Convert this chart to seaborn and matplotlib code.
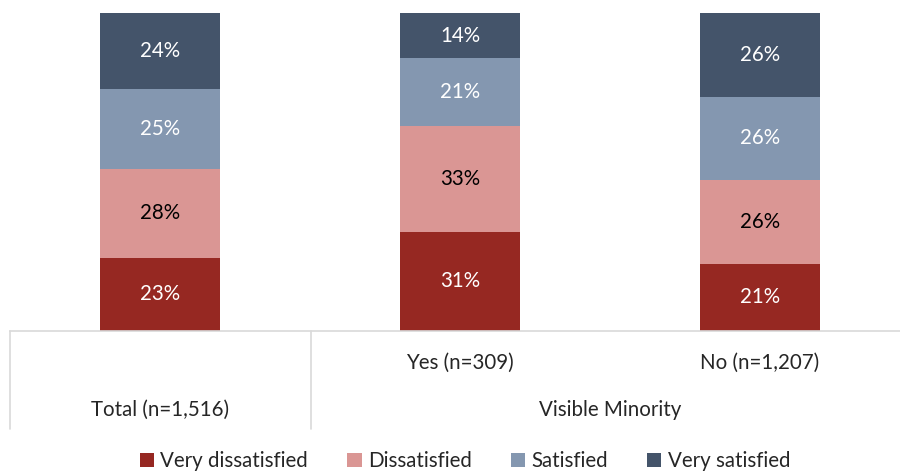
import matplotlib
matplotlib.use('Agg')
import matplotlib.pyplot as plt
import matplotlib.transforms as mtransforms
import seaborn as sns
import pandas as pd
from matplotlib.lines import Line2D
from matplotlib.patches import Patch

# Data (shares; labels are the rounded values)
groups = ['Total (n=1,516)', 'Yes (n=309)', 'No (n=1,207)']
levels = ['Very dissatisfied', 'Dissatisfied', 'Satisfied', 'Very satisfied']
very_dissatisfied = [23.0, 31.2, 21.1]
dissatisfied = [27.9, 33.4, 26.4]
satisfied = [25.2, 21.1, 26.1]
very_satisfied = [23.9, 14.3, 26.4]
colors = ['#962822', '#DA9694', '#8497B0', '#44546A']
text_colors = ['white', 'black', 'white', 'white']

series = [very_dissatisfied, dissatisfied, satisfied, very_satisfied]
df = pd.DataFrame({'group': groups})
for name, vals in zip(levels, series):
    df[name] = vals

sns.set_style('white')
plt.rcParams['font.family'] = ['Lato', 'DejaVu Sans']
FS = 14.8

W, H = 900, 472
fig = plt.figure(figsize=(9, 4.72), dpi=100)
ax = fig.add_axes([10 / W, (H - 331) / H, 900 / W, 318 / H])

# stacked bars: draw cumulative totals from the top down
cum = df[levels].cumsum(axis=1)
for i in range(len(levels) - 1, -1, -1):
    sns.barplot(x=df['group'], y=cum[levels[i]], color=colors[i], width=0.4,
                saturation=1, ax=ax, order=groups, linewidth=0)

# value labels
for j, g in enumerate(groups):
    base = 0
    for i, name in enumerate(levels):
        v = df.loc[j, name]
        ax.text(j, base + v / 2, f'{round(v)}%', ha='center', va='center',
                fontsize=FS, color=text_colors[i])
        base += v

ax.set_xlim(-0.5, 2.5)
ax.set_ylim(0, 100)
ax.set_xticks([])
ax.set_yticks([])
ax.set_xlabel('')
ax.set_ylabel('')
for s in ['top', 'left', 'right']:
    ax.spines[s].set_visible(False)
ax.spines['bottom'].set_color('#D9D9D9')
ax.spines['bottom'].set_linewidth(1.2)

# category table below the axis
line_color = '#D9D9D9'
for xpix in [10, 311]:
    fig.add_artist(Line2D([xpix / W, xpix / W], [(H - 331) / H, (H - 429) / H],
                          color=line_color, lw=1.2))

def fig_y(ypix):
    return (H - ypix) / H

blend = mtransforms.blended_transform_factory(ax.transData, fig.transFigure)
ax.text(1, fig_y(363), groups[1], transform=blend, ha='center', va='center', fontsize=FS)
ax.text(2, fig_y(363), groups[2], transform=blend, ha='center', va='center', fontsize=FS)
ax.text(0, fig_y(410), groups[0], transform=blend, ha='center', va='center', fontsize=FS)
ax.text(1.5, fig_y(410), 'Visible Minority', transform=blend, ha='center', va='center', fontsize=FS)

# legend
handles = [Patch(facecolor=c, edgecolor='none') for c in colors]
fig.legend(handles, levels, loc='center', bbox_to_anchor=(465 / W, fig_y(461)),
           ncol=4, frameon=False, fontsize=FS, handlelength=0.7, handleheight=0.7,
           handletextpad=0.3, columnspacing=1.9)

fig.savefig('out.png', dpi=100)
